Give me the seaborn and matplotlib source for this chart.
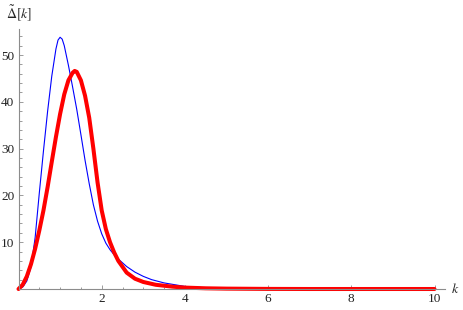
import matplotlib
matplotlib.use("Agg")
import matplotlib.pyplot as plt
import seaborn as sns
import pandas as pd
from matplotlib.ticker import MultipleLocator, FixedLocator

# ---- data ----
k_blue = [0, 0.1, 0.2, 0.3, 0.4, 0.5, 0.6, 0.7, 0.8, 0.9, 0.95, 1.0, 1.05,
          1.1, 1.2, 1.3, 1.4, 1.5, 1.6, 1.7, 1.8, 1.9, 2.0, 2.1, 2.2, 2.3,
          2.4, 2.6, 2.8, 3.0, 3.2, 3.5, 4.0, 4.5, 5.0, 6.0, 7.0, 8.0, 9.0, 10.0]
v_blue = [0, 0.4, 1.7, 4.7, 11.0, 20.5, 29.5, 38.0, 45.5, 51.3, 53.2, 53.8, 53.4,
          52.0, 47.8, 43.2, 38.4, 33.0, 27.5, 22.5, 18.0, 14.5, 11.8, 9.8, 8.4, 7.3,
          6.4, 4.8, 3.6, 2.7, 2.0, 1.3, 0.55, 0.25, 0.12, 0.03, 0.01, 0.0, 0.0, 0.0]

k_red = [0, 0.1, 0.2, 0.3, 0.4, 0.5, 0.6, 0.7, 0.8, 0.9, 1.0, 1.1, 1.2, 1.3,
         1.35, 1.4, 1.5, 1.6, 1.7, 1.8, 1.9, 2.0, 2.1, 2.2, 2.3, 2.4, 2.6, 2.8,
         3.0, 3.3, 3.7, 4.0, 4.5, 5.0, 6.0, 7.0, 8.0, 9.0, 10.0]
v_red = [0, 0.9, 2.7, 5.3, 8.6, 12.5, 16.8, 21.8, 27.2, 32.5, 37.4, 41.6, 44.6, 46.2,
         46.6, 46.4, 44.6, 41.3, 36.6, 30.0, 22.8, 16.8, 12.8, 10.0, 7.8, 6.0, 3.5, 2.2,
         1.5, 0.9, 0.5, 0.3, 0.15, 0.08, 0.02, 0.0, 0.0, 0.0, 0.0]

x_major = [2, 4, 6, 8, 10]
y_major = [10, 20, 30, 40, 50]

df_blue = pd.DataFrame({"k": k_blue, "v": v_blue})
df_red = pd.DataFrame({"k": k_red, "v": v_red})

sns.set_style("white")
plt.rcParams["font.family"] = ["Liberation Serif", "DejaVu Serif"]
plt.rcParams["mathtext.fontset"] = "stix"

fig = plt.figure(figsize=(4.63, 3.10), dpi=100)
ax = fig.add_axes([18.5 / 463, 21 / 310, 426.4 / 463, 259.7 / 310])

sns.lineplot(data=df_blue, x="k", y="v", color=(0, 0, 1), linewidth=0.8,
             ax=ax, legend=False, clip_on=False)
sns.lineplot(data=df_red, x="k", y="v", color=(1, 0, 0), linewidth=2.9,
             ax=ax, legend=False, clip_on=False)

ax.set_xlim(0, 10.25)
ax.set_ylim(0, 55.5)
ax.set_xlabel("")
ax.set_ylabel("")

for s in ["top", "right"]:
    ax.spines[s].set_visible(False)
axcol = "#8c8c8c"
for s in ["left", "bottom"]:
    ax.spines[s].set_color(axcol)
    ax.spines[s].set_linewidth(0.8)
    ax.spines[s].set_position(("data", 0))

ax.xaxis.set_major_locator(FixedLocator(x_major))
ax.yaxis.set_major_locator(FixedLocator(y_major))
ax.xaxis.set_minor_locator(MultipleLocator(0.5))
ax.yaxis.set_minor_locator(MultipleLocator(2))
ax.set_xticklabels([str(v) for v in x_major])
ax.set_yticklabels([str(v) for v in y_major])

ax.tick_params(which="both", direction="in", color=axcol, width=0.6,
               bottom=True, left=True, top=False, right=False,
               labelsize=9.5, labelcolor="#222222", pad=3)
ax.tick_params(which="major", length=3.0)
ax.tick_params(which="minor", length=1.8)

fig.text(451 / 463, 1 - 289 / 310, "$k$", fontsize=10, va="center", ha="left")
fig.text(6 / 463, 1 - 13 / 310, r"$\tilde{\Delta}[k]$", fontsize=10,
         va="center", ha="left")

fig.savefig("out.png", dpi=100)
